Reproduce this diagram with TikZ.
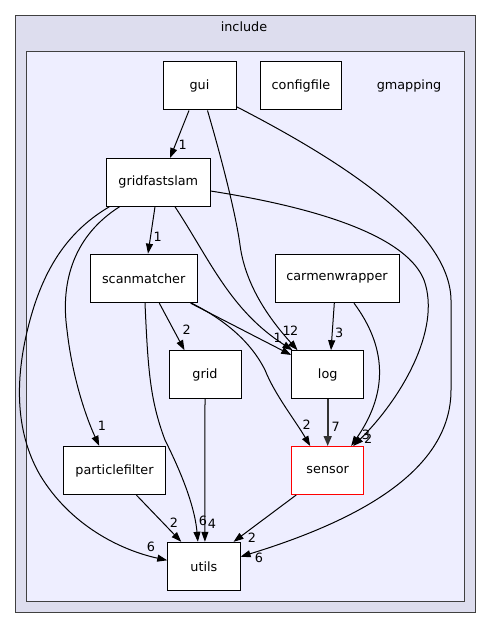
\documentclass[tikz,border=0pt]{standalone}
\usepackage{fontspec}
\setmainfont{DejaVu Sans}
\usetikzlibrary{arrows.meta,calc}
\definecolor{outerfill}{HTML}{DDDDEE}
\definecolor{innerfill}{HTML}{EEEEFF}
\begin{document}
\begin{tikzpicture}[x=1pt,y=-1pt,
  lbl/.style={font=\fontsize{12.8}{14}\selectfont},
  dirbox/.style={draw=black, fill=white, line width=1pt, inner sep=0pt, minimum height=48pt, font=\fontsize{12.8}{14}\selectfont},
  elab/.style={font=\fontsize{12.8}{14}\selectfont, inner sep=0pt},
  dep/.style={draw=black, line width=1pt, -{Triangle[length=10pt,width=7pt]}},
  depthick/.style={draw=black!80, line width=1.7pt, -{Triangle[length=10pt,width=8pt]}}
]
\useasboundingbox (0,0) rectangle (491,628);
% clusters
\draw[fill=outerfill, draw=black!75, line width=1pt] (15.7,15.3) rectangle (475,612);
\node[lbl] (includelbl) at (244,27) {include};
\draw[fill=innerfill, draw=black!75, line width=1pt] (26.7,51.7) rectangle (464,601.3);
\node[lbl] (gmappinglbl) at (409,86) {gmapping};
% nodes
\node[dirbox, minimum width=73pt] (gui) at (199.5,86) {gui};
\node[dirbox, minimum width=81pt] (configfile) at (301,86) {configfile};
\node[dirbox, minimum width=103.5pt, minimum height=47.7pt] (gridfastslam) at (158.3,182.4) {gridfastslam};
\node[dirbox, minimum width=106.7pt, minimum height=48.5pt] (scanmatcher) at (143.7,278.4) {scanmatcher};
\node[dirbox, minimum width=124pt, minimum height=48.5pt] (carmenwrapper) at (337,278.4) {carmenwrapper};
\node[dirbox, minimum width=72pt] (grid) at (205,374.7) {grid};
\node[dirbox, minimum width=72pt] (log) at (327.7,374.7) {log};
\node[dirbox, minimum width=72pt, draw=red] (sensor) at (327.7,470.5) {sensor};
\node[dirbox, minimum width=101.6pt, minimum height=48.4pt] (particlefilter) at (114.5,470.5) {particlefilter};
\node[dirbox, minimum width=72.3pt] (utils) at (203.9,566.3) {utils};
% edges
\draw[dep] ($(gui.south)+(-10.5,0)$) -- ($(gridfastslam.north)+(11.7,0)$);
\draw[dep] ($(gui.south)+(8,0)$) .. controls (222,160) and (236,215) .. (240,245) .. controls (246,290) and (275,325) .. ($(log.north west)+(6.3,0)$);
\draw[dep] ($(gridfastslam.south)+(16.7,0)$) .. controls (210,260) and (230,310) .. ($(log.north west)+(1.3,0)$);
\draw[dep] ($(scanmatcher.south east)+(-7,0)$) -- ($(log.west)+(0,-19.7)$);
\draw[dep] ($(carmenwrapper.south)+(-2.7,0)$) -- ($(log.north)+(3.3,0)$);
\draw[dep] ($(scanmatcher.south east)+(-6,0)$) .. controls (235,325) and (255,350) .. (265,370) .. controls (275,395) and (295,420) .. ($(sensor.north west)+(19,0)$);
\draw[depthick] (log.south) -- (sensor.north);
\draw[dep] ($(carmenwrapper.south)+(17,0)$) .. controls (385,345) and (390,390) .. ($(sensor.north east)+(-13,0)$);
\draw[dep] ($(gridfastslam.east)+(0,8.6)$) .. controls (332,210) and (408,240) .. (424,280) .. controls (442,330) and (400,400) .. ($(sensor.north east)+(-11,0)$);
\draw[dep] ($(gridfastslam.south west)+(3.3,0)$) .. controls (70,230) and (45,265) .. (30,320) .. controls (15,375) and (14,430) .. (40,475) .. controls (70,525) and (120,550) .. ($(utils.west)+(0,-6)$);
\draw[dep] ($(gridfastslam.south west)+(13.5,0)$) .. controls (75,235) and (60,280) .. (67,330) .. controls (72,375) and (85,415) .. ($(particlefilter.north west)+(36,0)$);
\draw[dep] ($(scanmatcher.south)+(1.3,0)$) .. controls (148,370) and (150,400) .. (165,440) .. controls (185,480) and (195,510) .. ($(utils.north)+(-6,0)$);
\draw[dep] (grid.south) -- ($(utils.north)+(1,0)$);
\draw[dep] ($(particlefilter.south)+(22,0)$) -- ($(utils.north west)+(14,0)$);
\draw[dep] ($(sensor.south west)+(5,0)$) -- ($(utils.north east)+(-7,0)$);
\draw[dep] ($(gui.east)+(0,20.7)$) .. controls (340,160) and (450,230) .. (451,300) -- (451,390) .. controls (451,470) and (360,520) .. ($(utils.east)+(0,-9.6)$);
\draw[dep] ($(gridfastslam.south)+(-3.3,0)$) -- ($(scanmatcher.north)+(4.3,0)$);
\draw[dep] ($(scanmatcher.south)+(15.6,0)$) -- ($(grid.north west)+(16,0)$);
% edge labels
\node[elab] (l1) at (182.7,145) {1};
\node[elab] (l17) at (157.7,237.3) {1};
\node[elab] (l18) at (186.7,330) {2};
\node[elab] (l11) at (102,426) {1};
\node[elab] (l10) at (151,547) {6};
\node[elab] (l12) at (203,521) {6};
\node[elab] (l13) at (212,524) {4};
\node[elab] (l14) at (174,522.7) {2};
\node[elab] (l15) at (252,537.7) {2};
\node[elab] (l16) at (259,557.7) {6};
\node[elab] (l4) at (277.7,338.3) {1};
\node[elab] (l3) at (286.7,331) {1};
\node[elab] (l2) at (294.3,331) {2};
\node[elab] (l5) at (339.3,332.7) {3};
\node[elab] (l6) at (306.7,425) {2};
\node[elab] (l7) at (335.7,426.7) {7};
\node[elab] (l8) at (366,435) {3};
\node[elab] (l9) at (368.3,438.3) {2};
\end{tikzpicture}
\end{document}
